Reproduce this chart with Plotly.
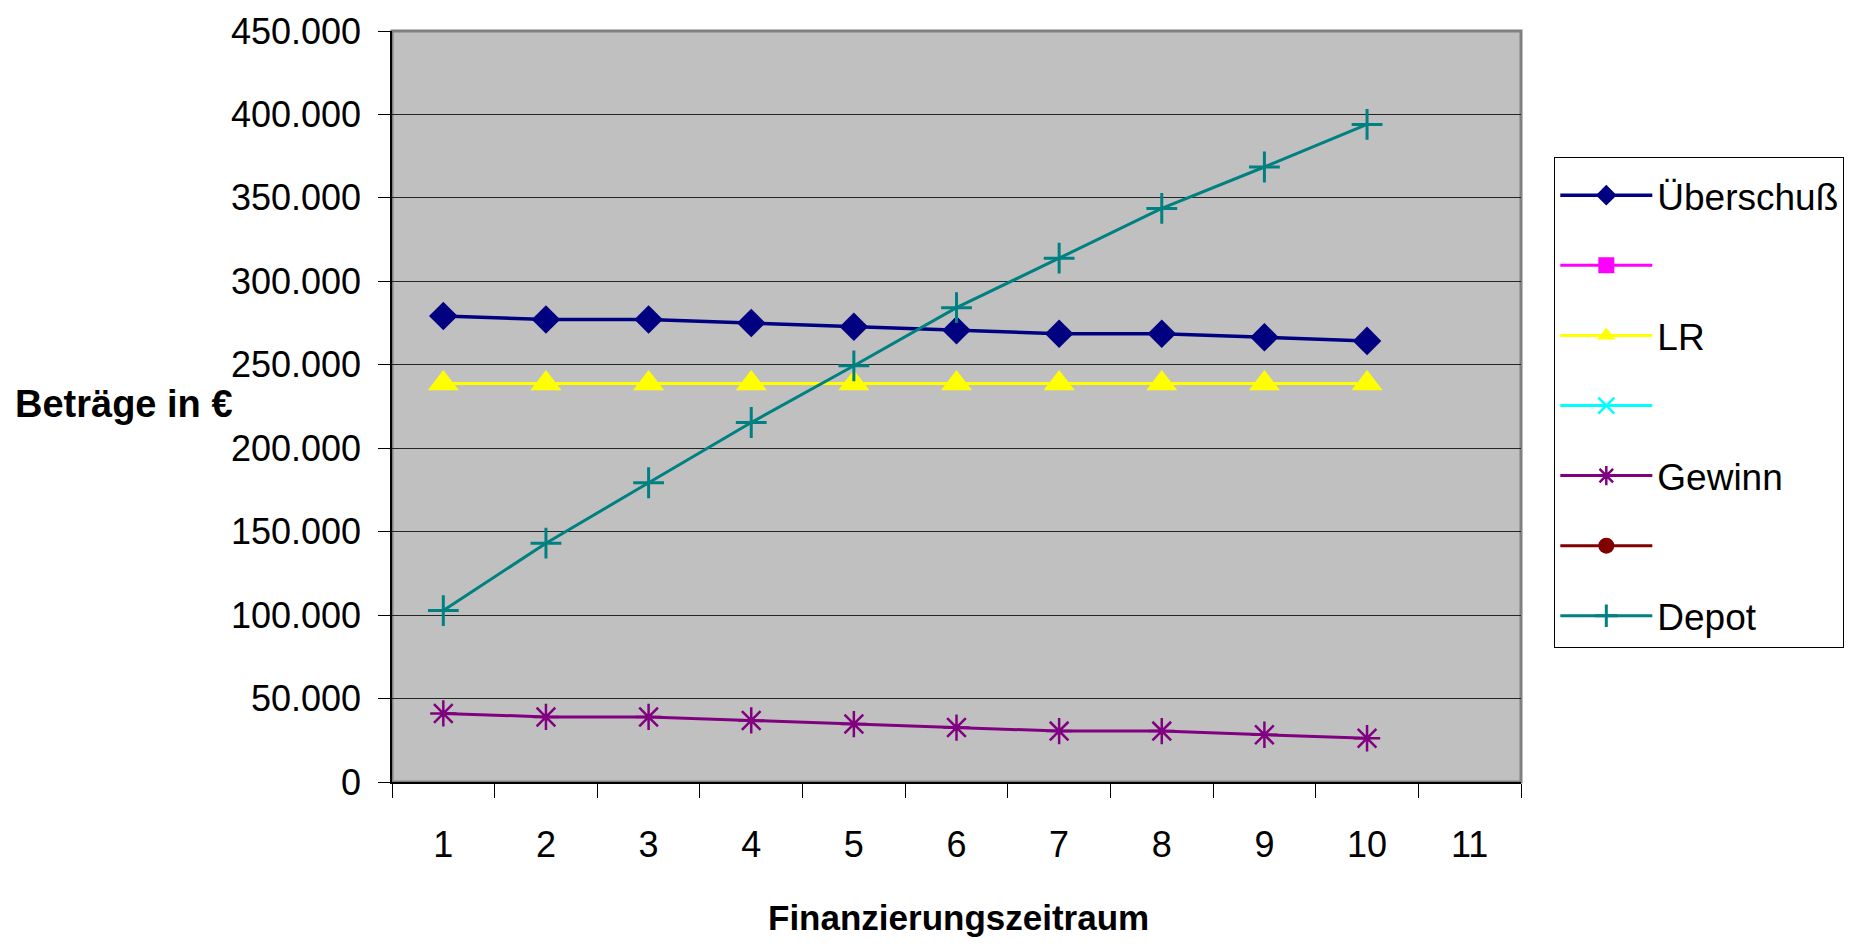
import plotly.graph_objects as go

perioden = [1, 2, 3, 4, 5, 6, 7, 8, 9, 10]
x_kategorien = [1, 2, 3, 4, 5, 6, 7, 8, 9, 10, 11]
ueberschuss = [279200, 277100, 277100, 275000, 272800, 270700, 268600, 268600, 266500, 264300]
leer_1 = [None] * 10
lr = [238800, 238800, 238800, 238800, 238800, 238800, 238800, 238800, 238800, 238800]
leer_2 = [None] * 10
gewinn = [41100, 39000, 39000, 36900, 34700, 32600, 30500, 30500, 28300, 26200]
leer_3 = [None] * 10
depot = [102700, 143100, 179300, 215400, 249400, 284200, 313900, 343700, 368500, 394000]
y_ticks = [0, 50000, 100000, 150000, 200000, 250000, 300000, 350000, 400000, 450000]

FONT = "Liberation Sans, Arial, sans-serif"

series = [
    ("Überschuß", ueberschuss, "#000080", "diamond", 22, 0, 3.5),
    (" ", leer_1, "#FF00FF", "square", 17, 0, 3),
    ("LR", lr, "#FFFF00", "triangle-up", 27, 0, 3),
    (" ", leer_2, "#00FFFF", "x-thin-open", 17, 2.5, 3),
    ("Gewinn", gewinn, "#800080", "asterisk-open", 22, 2.5, 3),
    (" ", leer_3, "#800000", "circle", 17, 0, 3),
    ("Depot", depot, "#008080", "cross-thin-open", 22, 3, 3),
]

fig = go.Figure()
for i, (name, vals, color, sym, size, lw, width) in enumerate(series):
    fig.add_trace(go.Scatter(
        x=perioden, y=vals, name=name, mode="lines+markers",
        line=dict(color=color, width=width),
        marker=dict(symbol=sym, size=size, color=color,
                    line=dict(color=color, width=lw)),
        legendgroup=f"g{i}",
    ))

fig.update_layout(
    width=1843, height=931,
    margin=dict(l=384, r=330, t=23, b=157, autoexpand=False),
    paper_bgcolor="white",
    plot_bgcolor="#C0C0C0",
    separators=",.",
    font=dict(family=FONT, size=36, color="black"),
    showlegend=True,
    legend=dict(
        x=1.0295, y=0.832, xanchor="left", yanchor="top",
        bgcolor="white", bordercolor="black", borderwidth=1,
        font=dict(family=FONT, size=37, color="black"),
        title=dict(text=" ", font=dict(size=5)),
        itemwidth=92, tracegroupgap=19, itemclick=False,
    ),
    xaxis=dict(
        range=[0.5, 11.5], tickmode="array", tickvals=x_kategorien,
        ticktext=[str(v) for v in x_kategorien],
        ticks="", showgrid=False, zeroline=False, automargin=False,
        showline=True, linecolor="black", linewidth=1.5,
        ticklabelstandoff=30,
        tickfont=dict(family=FONT, size=36),
        minor=dict(tickmode="array", tickvals=[v + 0.5 for v in [0] + x_kategorien],
                   ticks="outside", ticklen=14, tickcolor="black", tickwidth=1, showgrid=False),
    ),
    yaxis=dict(
        range=[0, 450000], tickmode="array", tickvals=y_ticks, tickformat=",d",
        ticks="outside", ticklen=12, tickcolor="black", automargin=False,
        showgrid=True, gridcolor="#262626", gridwidth=1,
        zeroline=False, showline=True, linecolor="black", linewidth=1.5,
        ticklabelstandoff=10,
        tickfont=dict(family=FONT, size=36),
    ),
    annotations=[
        dict(text="<b>Beträge in €</b>", xref="paper", yref="paper",
             x=-0.336, y=0.503, xanchor="left", yanchor="middle",
             showarrow=False, font=dict(family=FONT, size=38)),
        dict(text="<b>Finanzierungszeitraum</b>", xref="paper", yref="paper",
             x=0.502, y=-0.180, xanchor="center", yanchor="middle",
             showarrow=False, font=dict(family=FONT, size=35)),
    ],
    shapes=[
        dict(type="rect", xref="paper", yref="paper", x0=0, x1=1, y0=0, y1=1,
             layer="below", line=dict(color="#808080", width=3)),
    ],
)

fig.write_html("out.html")
